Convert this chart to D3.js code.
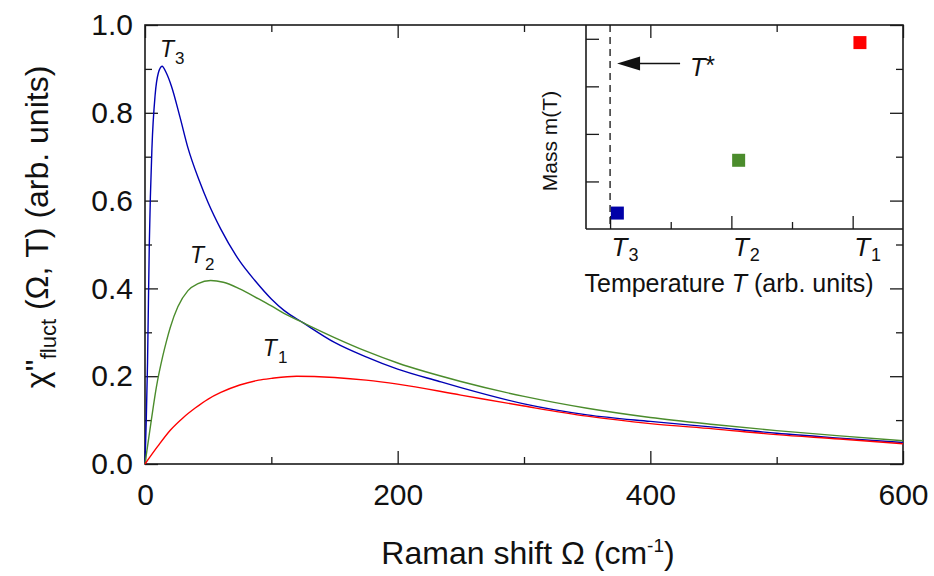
<!DOCTYPE html>
<html>
<head>
<meta charset="utf-8">
<script src="https://cdn.jsdelivr.net/npm/d3@7"></script>
<style>
  html, body { margin: 0; padding: 0; background: #fff; }
  svg { display: block; font-family: "Liberation Sans", Arial, sans-serif; }
</style>
</head>
<body>
<svg id="chart" width="934" height="576"></svg>
<script>
// ---------- data ----------
const omegaT3 = [0,1,2,3.4,5.5,8,10.5,13.5,17,21,27.7,34,43,50,60,75,87,100,110,125,150,175,200,233,250,300,350,400,450,500,550,600];
const valuesT3 = [0,0.1,0.23,0.5,0.72,0.84,0.89,0.906,0.89,0.86,0.79,0.72,0.645,0.595,0.535,0.462,0.418,0.376,0.35,0.322,0.277,0.244,0.216,0.188,0.174,0.137,0.112,0.097,0.084,0.07,0.059,0.049];

const omegaT2 = [0,5,9,14,17,20,26,34,42,52,62,75,90,100,110,125,150,175,200,250,300,350,400,450,500,550,600];
const valuesT2 = [0,0.1,0.175,0.245,0.28,0.311,0.358,0.395,0.411,0.418,0.414,0.399,0.376,0.36,0.343,0.322,0.288,0.257,0.23,0.188,0.154,0.127,0.106,0.09,0.076,0.064,0.053];

const omegaT1 = [0,10,20,30,40,50,60,75,90,100,120,150,175,200,250,300,350,400,450,500,550,600];
const valuesT1 = [0,0.04,0.077,0.105,0.128,0.148,0.163,0.18,0.191,0.195,0.2,0.197,0.191,0.182,0.157,0.132,0.109,0.092,0.08,0.067,0.057,0.046];

const seriesNames = ["T3", "T2", "T1"];
const seriesSubs = ["3", "2", "1"];
const seriesColors = ["#0000b4", "#4b8c2c", "#ff0000"];
// label anchor positions in data units (Omega, chi)
const labelOmega = [11.9, 35.6, 93.3];
const labelChi = [0.927, 0.458, 0.246];

const xMajorTicks = [0, 200, 400, 600];
const xMinorTicks = [100, 300, 500];
const yMajorTicks = [0, 0.2, 0.4, 0.6, 0.8, 1.0];
const yMinorTicks = [0.1, 0.3, 0.5, 0.7, 0.9];

// inset data
const insetTickValues = [1, 3, 5];
const insetTickLabels = ["3", "2", "1"];  // subscripts of T
const insetMinorTicks = [2, 4];
const insetYTicks = [1, 2, 3, 4];
const massX = [1.12, 3.12, 5.12];
const massY = [0.335, 1.445, 3.92];
const massColors = ["#0000a8", "#4b8c2c", "#ff0000"];
const tStar = 1;
const tStarArrowY = 3.48;

// ---------- layout ----------
const svg = d3.select("#chart");
const L = 145, R = 903, T = 25, B = 464;
const x = d3.scaleLinear().domain([0, 600]).range([L, R]);
const y = d3.scaleLinear().domain([0, 1]).range([B, T]);

const axisColor = "#1a1a1a";

function styleAxis(g) {
  g.select(".domain").remove();
  g.selectAll(".tick line").attr("stroke", axisColor).attr("stroke-width", 1.3);
  g.selectAll(".tick text").attr("fill", "#111").style("font-size", "30px")
    .style("font-family", "'Liberation Sans', Arial, sans-serif");
}

// bottom
svg.append("g").attr("transform", `translate(0,${B})`)
  .call(d3.axisBottom(x).tickValues(xMajorTicks).tickSize(-13).tickPadding(20).tickFormat(d3.format("d")))
  .call(styleAxis);
svg.append("g").attr("transform", `translate(0,${B})`)
  .call(d3.axisBottom(x).tickValues(xMinorTicks).tickSize(-7).tickFormat(""))
  .call(styleAxis);
// top
svg.append("g").attr("transform", `translate(0,${T})`)
  .call(d3.axisTop(x).tickValues(xMajorTicks).tickSize(-13).tickFormat(""))
  .call(styleAxis);
svg.append("g").attr("transform", `translate(0,${T})`)
  .call(d3.axisTop(x).tickValues(xMinorTicks).tickSize(-7).tickFormat(""))
  .call(styleAxis);
// left
svg.append("g").attr("transform", `translate(${L},0)`)
  .call(d3.axisLeft(y).tickValues(yMajorTicks).tickSize(-13).tickPadding(12).tickFormat(d3.format(".1f")))
  .call(styleAxis);
svg.append("g").attr("transform", `translate(${L},0)`)
  .call(d3.axisLeft(y).tickValues(yMinorTicks).tickSize(-7).tickFormat(""))
  .call(styleAxis);
// right
svg.append("g").attr("transform", `translate(${R},0)`)
  .call(d3.axisRight(y).tickValues(yMajorTicks).tickSize(-13).tickFormat(""))
  .call(styleAxis);
svg.append("g").attr("transform", `translate(${R},0)`)
  .call(d3.axisRight(y).tickValues(yMinorTicks).tickSize(-7).tickFormat(""))
  .call(styleAxis);

// frame
svg.append("rect").attr("x", L).attr("y", T).attr("width", R - L).attr("height", B - T)
  .attr("fill", "none").attr("stroke", axisColor).attr("stroke-width", 1.6);

// curves
const line = d3.line().x(d => x(d[0])).y(d => y(d[1])).curve(d3.curveMonotoneX);
const series = [
  d3.zip(omegaT3, valuesT3),
  d3.zip(omegaT2, valuesT2),
  d3.zip(omegaT1, valuesT1)
];
series.forEach((s, i) => {
  svg.append("path").datum(s).attr("d", line)
    .attr("fill", "none").attr("stroke", seriesColors[i]).attr("stroke-width", 1.4);
});

// curve labels
seriesNames.forEach((n, i) => {
  const t = svg.append("text").attr("x", x(labelOmega[i])).attr("y", y(labelChi[i]))
    .style("font-size", "23px").attr("fill", "#111");
  t.append("tspan").style("font-style", "italic").text("T");
  t.append("tspan").attr("dy", 7).attr("dx", 1).style("font-size", "17px").text(seriesSubs[i]);
});

// axis titles
const xt = svg.append("text").attr("x", 528).attr("y", 564).attr("text-anchor", "middle")
  .style("font-size", "32px").attr("fill", "#111");
xt.append("tspan").text("Raman shift Ω (cm");
xt.append("tspan").attr("dy", -12).style("font-size", "19px").text("-1");
xt.append("tspan").attr("dy", 12).text(")");

const yt = svg.append("text").attr("transform", "translate(48,227) rotate(-90)")
  .attr("text-anchor", "middle").style("font-size", "32px").attr("fill", "#111");
yt.append("tspan").text("χ''");
yt.append("tspan").attr("dy", 8).style("font-size", "22px").text("fluct");
yt.append("tspan").attr("dy", -8).text(" (Ω, T) (arb. units)");

// ---------- inset ----------
const iL = 586, iR = R, iT = T, iB = 229;
const ix = d3.scaleLinear().domain([0.603, 5.83]).range([iL, iR]);
const iy = d3.scaleLinear().domain([0, 4.29]).range([iB, iT]);

svg.append("g").attr("transform", `translate(0,${iB})`)
  .call(d3.axisBottom(ix).tickValues(insetTickValues).tickSize(-13).tickFormat(""))
  .call(styleAxis);
svg.append("g").attr("transform", `translate(0,${iB})`)
  .call(d3.axisBottom(ix).tickValues(insetMinorTicks).tickSize(-7).tickFormat(""))
  .call(styleAxis);
svg.append("g").attr("transform", `translate(${iL},0)`)
  .call(d3.axisLeft(iy).tickValues(insetYTicks).tickSize(-13).tickFormat(""))
  .call(styleAxis);

svg.append("line").attr("x1", iL).attr("x2", iL).attr("y1", iT).attr("y2", iB)
  .attr("stroke", axisColor).attr("stroke-width", 1.6);
svg.append("line").attr("x1", iL).attr("x2", iR).attr("y1", iB).attr("y2", iB)
  .attr("stroke", axisColor).attr("stroke-width", 1.6);

// inset tick labels
insetTickValues.forEach((v, i) => {
  const t = svg.append("text").attr("x", ix(v) + 15).attr("y", 256).attr("text-anchor", "middle")
    .style("font-size", "26px").attr("fill", "#111");
  t.append("tspan").style("font-style", "italic").text("T");
  t.append("tspan").attr("dy", 5).attr("dx", 1).style("font-size", "18px").text(insetTickLabels[i]);
});

// inset axis titles
const ixt = svg.append("text").attr("x", 729).attr("y", 292).attr("text-anchor", "middle")
  .style("font-size", "25px").attr("fill", "#111");
ixt.append("tspan").text("Temperature ");
ixt.append("tspan").style("font-style", "italic").text("T");
ixt.append("tspan").text(" (arb. units)");

svg.append("text").attr("transform", "translate(557,141) rotate(-90)").attr("text-anchor", "middle")
  .style("font-size", "21px").attr("fill", "#111").text("Mass m(T)");

// dashed T* line
svg.append("line").attr("x1", ix(tStar)).attr("x2", ix(tStar)).attr("y1", iT).attr("y2", iB)
  .attr("stroke", "#111").attr("stroke-width", 1.3).attr("stroke-dasharray", "7,5");

// arrow
const ay = iy(tStarArrowY);
const tipX = ix(tStar) + 7;
svg.append("line").attr("x1", tipX + 20).attr("x2", tipX + 63).attr("y1", ay).attr("y2", ay)
  .attr("stroke", "#111").attr("stroke-width", 1.5);
svg.append("path")
  .attr("d", `M${tipX},${ay} L${tipX + 23},${ay - 7} L${tipX + 23},${ay + 7} Z`)
  .attr("fill", "#111");
const ts = svg.append("text").attr("x", tipX + 73).attr("y", ay + 12)
  .style("font-size", "25px").attr("fill", "#111");
ts.append("tspan").style("font-style", "italic").text("T");
ts.append("tspan").attr("dy", -2).text("*");

// squares
const sq = 13;
massX.forEach((v, i) => {
  svg.append("rect").attr("x", ix(v) - sq / 2).attr("y", iy(massY[i]) - sq / 2)
    .attr("width", sq).attr("height", sq).attr("fill", massColors[i]);
});
</script>
</body>
</html>
